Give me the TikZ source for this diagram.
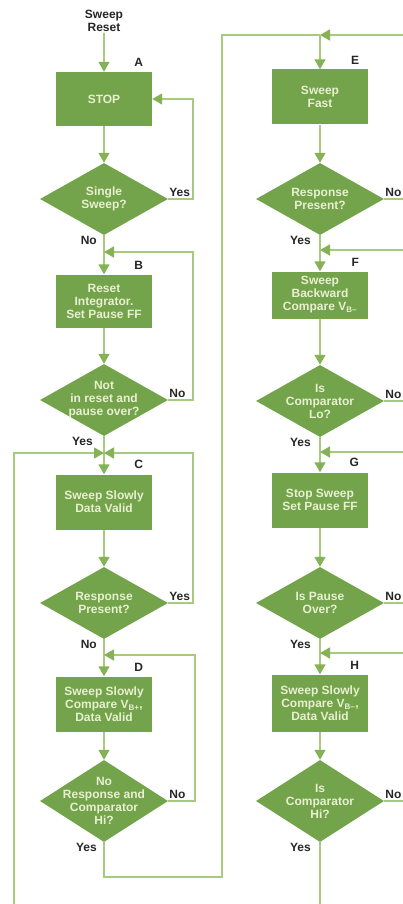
\documentclass[tikz,border=0pt]{standalone}
\usepackage{fontspec}
\setmainfont{Liberation Sans}
\usetikzlibrary{positioning,shapes.geometric,arrows.meta}

\definecolor{boxgreen}{HTML}{73A34A}
\definecolor{linegreen}{HTML}{A8CA7E}
\definecolor{tipgreen}{HTML}{86B257}
\definecolor{boxtext}{HTML}{E9F0D2}
\definecolor{labgray}{HTML}{262626}

\tikzset{every picture/.append style={x=1pt,y=-1pt}}
\tikzset{
  stepbox/.style={rectangle, fill=boxgreen, text=boxtext,
    font=\bfseries\fontsize{12}{13}\selectfont, align=center,
    minimum width=96pt, minimum height=54pt, inner sep=2pt},
  test/.style={diamond, fill=boxgreen, minimum width=128pt,
    minimum height=72pt, inner sep=0pt},
  testtext/.style={text=boxtext, font=\bfseries\fontsize{12}{13}\selectfont,
    align=center, inner sep=0pt},
  tag/.style={text=labgray, font=\bfseries\fontsize{12}{13}\selectfont,
    align=center, inner sep=1pt},
  link/.style={draw=linegreen, line width=1.6pt},
  flow/.style={link, -{Triangle[length=10pt,width=11pt,color=tipgreen]}},
}

\begin{document}
\begin{tikzpicture}
  \useasboundingbox (0,0) rectangle (403,904);
  \coordinate (rim) at (403,904);
  % left column
  \node[tag] (reset) at (104,21) {Sweep\\Reset};
  \node[stepbox] (A) at (104,99) {STOP};
  \node[test, label={[testtext]center:{Single\\Sweep?}}] (q1) at (104,199) {};
  \node[stepbox, minimum height=53pt] (B) at (104,301) {Reset\\Integrator.\\Set Pause FF};
  \node[test, label={[testtext]center:{Not\\in reset and\\pause over?}}] (q2) at (104,400) {};
  \node[stepbox, minimum height=55pt] (C) at (104,502) {Sweep Slowly\\Data Valid};
  \node[test, label={[testtext]center:{Response\\Present?}}] (q3) at (104,603) {};
  \node[stepbox, minimum height=55pt] (D) at (104,704) {Sweep Slowly\\Compare V\textsubscript{B+},\\Data Valid};
  \node[test, minimum height=82pt, label={[testtext]center:{No\\Response and\\Comparator\\Hi?}}] (q4) at (104,801) {};
  % right column
  \node[stepbox, minimum height=55pt] (E) at (320,97) {Sweep\\Fast};
  \node[test, label={[testtext]center:{Response\\Present?}}] (qE) at (320,199) {};
  \node[stepbox, minimum height=47pt] (F) at (320,295) {Sweep\\Backward\\Compare V\textsubscript{B–}};
  \node[test, label={[testtext]center:{Is\\Comparator\\Lo?}}] (qF) at (320,401) {};
  \node[stepbox, minimum height=55pt] (G) at (320,500) {Stop Sweep\\Set Pause FF};
  \node[test, label={[testtext]center:{Is Pause\\Over?}}] (qG) at (320,603) {};
  \node[stepbox, minimum height=57pt] (H) at (320,703) {Sweep Slowly\\Compare V\textsubscript{B–},\\Data Valid};
  \node[test, minimum height=82pt, label={[testtext]center:{Is\\Comparator\\Hi?}}] (qH) at (320,801) {};

  % box letters
  \foreach \b in {A,B,C,D,E,F,G,H}
    \node[tag, anchor=south east] at ([xshift=-8pt,yshift=4pt]\b.north east) {\b};

  % merge points
  \coordinate (mB) at (104,252);
  \coordinate (mC) at (104,453);
  \coordinate (mD) at (104,655);
  \coordinate (mE) at (320,35);
  \coordinate (mF) at (320,250);
  \coordinate (mG) at (320,452);
  \coordinate (mH) at (320,653);
  \coordinate (outL) at (14,904);
  \coordinate (loopA) at (222,877);
  \coordinate (loopB) at (222,35);

  % left column flow
  \draw[flow] (reset) -- (A);
  \draw[flow] (A) -- (q1);
  \draw[flow] (q1.east) -- ++(25,0) |- (A.east);
  \draw[flow] (q1.south) -- (B);
  \draw[flow] (B) -- (q2);
  \draw[flow] (q2.east) -- ++(25,0) |- (mB);
  \draw[flow] (q2.south) -- (C);
  \draw[flow] (outL) |- (mC);
  \draw[flow] (C) -- (q3);
  \draw[flow] (q3.east) -- ++(25,0) |- (mC);
  \draw[flow] (q3.south) -- (D);
  \draw[flow] (D) -- (q4);
  \draw[flow] (q4.east) -- ++(27,0) |- (mD);
  \draw[link] (q4.south) |- (loopA) -- (loopB) -- (mE);

  % right column flow
  \draw[flow] (mE -| rim) -- (mE);
  \draw[flow] (mE) -- (E);
  \draw[flow] (E) -- (qE);
  \draw[link] (qE.east) -- (qE.east -| rim);
  \draw[flow] (qE.south) -- (F);
  \draw[flow] (mF -| rim) -- (mF);
  \draw[flow] (F) -- (qF);
  \draw[link] (qF.east) -- (qF.east -| rim);
  \draw[flow] (qF.south) -- (G);
  \draw[flow] (mG -| rim) -- (mG);
  \draw[flow] (G) -- (qG);
  \draw[link] (qG.east) -- (qG.east -| rim);
  \draw[flow] (qG.south) -- (H);
  \draw[flow] (mH -| rim) -- (mH);
  \draw[flow] (H) -- (qH);
  \draw[link] (qH.east) -- (qH.east -| rim);
  \draw[link] (qH.south) -- (qH.south |- rim);

  % yes / no labels
  \node[tag, anchor=south west] at ([yshift=1pt]q1.east) {Yes};
  \node[tag, anchor=north east] at ([xshift=-6pt]q1.south) {No};
  \node[tag, anchor=south west] at ([yshift=1pt]q2.east) {No};
  \node[tag, anchor=north east] at ([xshift=-10pt]q2.south) {Yes};
  \node[tag, anchor=south west] at ([yshift=1pt]q3.east) {Yes};
  \node[tag, anchor=north east] at ([xshift=-6pt]q3.south) {No};
  \node[tag, anchor=south west] at ([yshift=1pt]q4.east) {No};
  \node[tag, anchor=north east] at ([xshift=-6pt]q4.south) {Yes};
  \node[tag, anchor=south west] at ([yshift=1pt]qE.east) {No};
  \node[tag, anchor=north east] at ([xshift=-8pt]qE.south) {Yes};
  \node[tag, anchor=south west] at ([yshift=1pt]qF.east) {No};
  \node[tag, anchor=north east] at ([xshift=-8pt]qF.south) {Yes};
  \node[tag, anchor=south west] at ([yshift=1pt]qG.east) {No};
  \node[tag, anchor=north east] at ([xshift=-8pt]qG.south) {Yes};
  \node[tag, anchor=south west] at ([yshift=1pt]qH.east) {No};
  \node[tag, anchor=north east] at ([xshift=-8pt]qH.south) {Yes};
\end{tikzpicture}
\end{document}
